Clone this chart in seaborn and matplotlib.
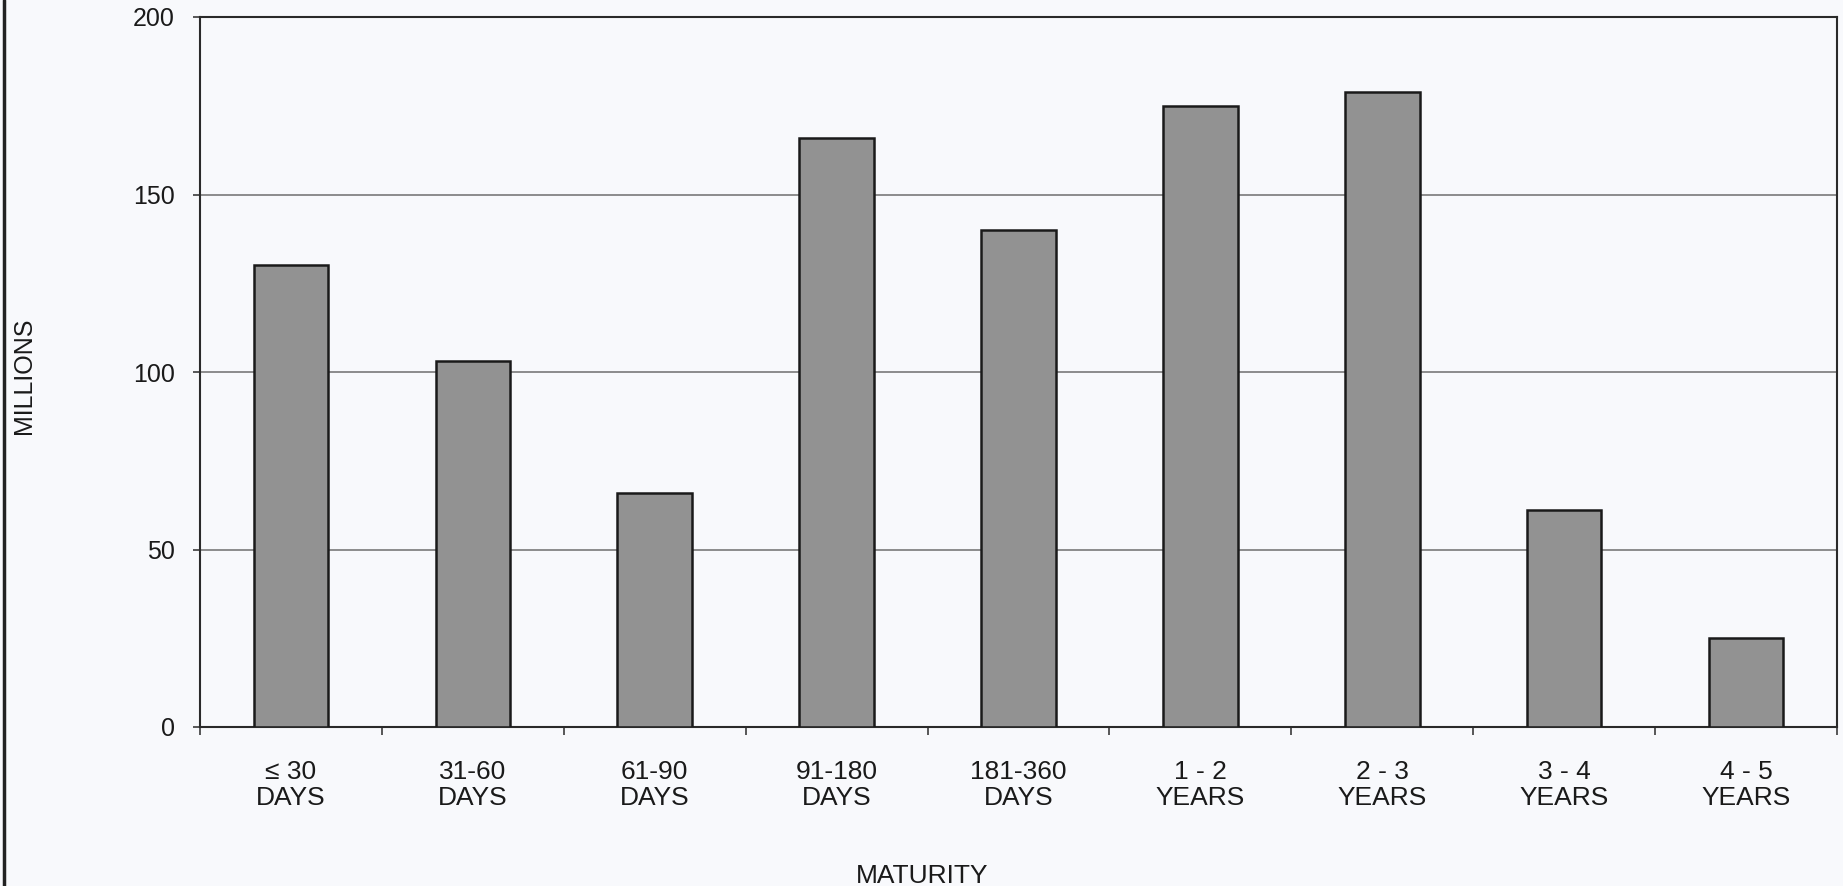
import matplotlib
matplotlib.use("Agg")
import matplotlib.pyplot as plt
import seaborn as sns
import pandas as pd
from matplotlib.lines import Line2D

categories = ["\u2264 30\nDAYS", "31-60\nDAYS", "61-90\nDAYS", "91-180\nDAYS", "181-360\nDAYS",
              "1 - 2\nYEARS", "2 - 3\nYEARS", "3 - 4\nYEARS", "4 - 5\nYEARS"]
values = [130, 103, 66, 166, 140, 175, 179, 61, 25]
y_ticks = [0, 50, 100, 150, 200]

sns.set_theme(style="white")
plt.rcParams['font.family'] = ['Liberation Sans', 'DejaVu Sans']

df = pd.DataFrame({"cat": categories, "val": values})

fig = plt.figure(figsize=(18.43, 8.86), dpi=100)
bg = "#f8f9fc"
fig.patch.set_facecolor(bg)
ax = fig.add_axes([200/1843, 1 - 727/886, 1637/1843, 710/886])
ax.set_facecolor(bg)

sns.barplot(data=df, x="cat", y="val", color="#929292", edgecolor="#1a1a1a",
            linewidth=1.8, width=0.41, saturation=1, ax=ax, zorder=3)

ax.set_xlim(-0.5, len(categories) - 0.5)
ax.set_ylim(0, 200)
ax.set_yticks(y_ticks)
ax.yaxis.grid(True, color="#6e6e6e", linewidth=1.1, zorder=0)
ax.xaxis.grid(False)

for s in ax.spines.values():
    s.set_color("#2a2a2a")
    s.set_linewidth(1.5)
    s.set_visible(True)

ax.tick_params(axis="y", which="major", direction="out", length=5, width=1.1,
               color="#2a2a2a", pad=13, labelsize=18, labelcolor="#1a1a1a", left=True)
ax.set_xticks(range(len(categories)))
ax.set_xticks([i - 0.5 for i in range(len(categories) + 1)], minor=True)
ax.tick_params(axis="x", which="major", length=0, pad=24, labelsize=19, labelcolor="#1a1a1a")
ax.tick_params(axis="x", which="minor", direction="out", length=6, width=1.1,
               color="#2a2a2a", bottom=True)
for lbl in ax.get_xticklabels():
    lbl.set_linespacing(1.08)

ax.set_xlabel("")
ax.set_ylabel("")
fig.text(24/1843, 1 - 376/886, "MILLIONS", rotation=90, ha="center", va="center",
         fontsize=18, color="#1a1a1a")
fig.text(922/1843, 1 - 876/886, "MATURITY", ha="center", va="center",
         fontsize=19, color="#1a1a1a")

fig.add_artist(Line2D([4/1843, 4/1843], [0, 1], transform=fig.transFigure,
                      color="#222222", linewidth=2.5))

fig.savefig("out.png", dpi=100, facecolor=bg)
